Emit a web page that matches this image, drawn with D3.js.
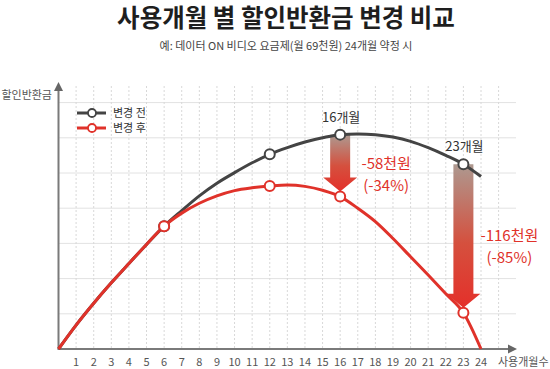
<!DOCTYPE html>
<html>
<head>
<meta charset="utf-8">
<script src="https://cdn.jsdelivr.net/npm/d3@7"></script>
<style>
  body { margin: 0; background: #fff; }
  svg { display: block; font-family: "Noto Sans CJK KR", "Noto Sans", sans-serif; }
</style>
</head>
<body>
<div id="chart"></div>
<script>
// months 0..24
const months = [0, 1, 2, 3, 4, 5, 6, 7, 8, 9, 10, 11, 12, 13, 14, 15, 16, 17, 18, 19, 20, 21, 22, 23, 24]
const tickMonths = [1, 2, 3, 4, 5, 6, 7, 8, 9, 10, 11, 12, 13, 14, 15, 16, 17, 18, 19, 20, 21, 22, 23, 24]
const gridMonths = [1, 2, 3, 4, 5, 6, 7, 8, 9, 10, 11, 12, 13, 14, 15, 16, 17, 18, 19, 20, 21, 22, 23, 24, 25]
const gridValues = [1, 2, 3, 4, 5, 6, 7]

// 할인반환금 (relative units)
const before = [0, 0.68, 1.3, 1.88, 2.43, 2.97, 3.49, 3.93, 4.35, 4.71, 5.01, 5.29, 5.53, 5.72, 5.88, 6.0, 6.09, 6.11, 6.09, 6.02, 5.9, 5.72, 5.5, 5.25, 4.9]
const after = [0, 0.68, 1.3, 1.88, 2.43, 2.97, 3.49, 3.86, 4.14, 4.35, 4.5, 4.58, 4.63, 4.66, 4.62, 4.51, 4.33, 4.0, 3.62, 3.14, 2.62, 2.1, 1.57, 1.03, 0]

const markMonths = [6, 12, 16, 23]
const calloutMonths = [16, 23]
const calloutMonthLabels = ['16개월', '23개월']
const calloutDiffs = ['-58천원', '-116천원']
const calloutPcts = ['(-34%)', '(-85%)']

const seriesNames = ['변경 전', '변경 후']
const seriesColors = ['#444444', '#e0322a']

const width = 550, height = 369
const red = '#e0322a'

const svg = d3.select('#chart').append('svg')
  .attr('width', width)
  .attr('height', height)

const x = d3.scaleLinear().domain([0, 24]).range([58.5, 481])
const y = d3.scaleLinear().domain([0, 7]).range([349, 102.6])

const defs = svg.append('defs')
const grad = defs.append('linearGradient')
  .attr('id', 'arrowGrad')
  .attr('x1', 0).attr('y1', 0).attr('x2', 0).attr('y2', 1)
grad.append('stop').attr('offset', '0%').attr('stop-color', '#ad9990')
grad.append('stop').attr('offset', '55%').attr('stop-color', '#d5503e')
grad.append('stop').attr('offset', '100%').attr('stop-color', '#e4302a')

// title
svg.append('text')
  .attr('x', 286).attr('y', 27)
  .attr('text-anchor', 'middle')
  .attr('font-size', 24.5)
  .attr('font-weight', 'bold')
  .style('fill', '#1e1e1e')
  .text('사용개월 별 할인반환금 변경 비교')

svg.append('text')
  .attr('x', 286).attr('y', 50)
  .attr('text-anchor', 'middle')
  .attr('font-size', 11)
  .style('fill', '#444')
  .text('예: 데이터 ON 비디오 요금제(월 69천원) 24개월 약정 시')

// grid
svg.append('g').selectAll('line')
  .data(gridValues)
  .enter().append('line')
  .attr('x1', x(0)).attr('x2', 516)
  .attr('y1', d => y(d)).attr('y2', d => y(d))
  .style('stroke', '#e2e2e2')
  .style('stroke-width', 1)

svg.append('g').selectAll('line')
  .data(gridMonths)
  .enter().append('line')
  .attr('x1', d => x(d)).attr('x2', d => x(d))
  .attr('y1', 86).attr('y2', y(0))
  .style('stroke', '#d8d8d8')
  .style('stroke-width', 1)
  .style('stroke-dasharray', '2,2')

// axes with arrows
svg.append('line')
  .attr('x1', x(0)).attr('x2', 510)
  .attr('y1', y(0)).attr('y2', y(0))
  .style('stroke', '#7a7a7a').style('stroke-width', 2)
svg.append('path')
  .attr('d', 'M517,' + y(0) + ' L508,' + (y(0) - 4.5) + ' L508,' + (y(0) + 4.5) + 'Z')
  .style('fill', '#666')

svg.append('line')
  .attr('x1', x(0)).attr('x2', x(0))
  .attr('y1', y(0) + 1).attr('y2', 89)
  .style('stroke', '#7a7a7a').style('stroke-width', 2)
svg.append('path')
  .attr('d', 'M' + x(0) + ',82 L' + (x(0) - 4.5) + ',91 L' + (x(0) + 4.5) + ',91Z')
  .style('fill', '#666')

// tick labels
svg.append('g').selectAll('text')
  .data(tickMonths)
  .enter().append('text')
  .attr('x', d => x(d))
  .attr('y', 366)
  .attr('text-anchor', 'middle')
  .attr('font-size', 11)
  .style('fill', '#555')
  .text(d => d)

svg.append('text')
  .attr('x', 498).attr('y', 366)
  .attr('font-size', 11)
  .style('fill', '#555')
  .text('사용개월수')

svg.append('text')
  .attr('x', 52).attr('y', 99)
  .attr('text-anchor', 'end')
  .attr('font-size', 11)
  .style('fill', '#555')
  .text('할인반환금')

// drop arrows
const shaftHalf = 10, headHalf = 17, headLen = 14
calloutMonths.forEach(function (m, i) {
  const cx = x(m)
  const top = y(before[m])
  const tip = y(after[m]) - 5
  const hy = tip - headLen
  const p = d3.path()
  p.moveTo(cx - shaftHalf, top)
  p.lineTo(cx + shaftHalf, top)
  p.lineTo(cx + shaftHalf, hy)
  p.lineTo(cx + headHalf, hy)
  p.lineTo(cx, tip)
  p.lineTo(cx - headHalf, hy)
  p.lineTo(cx - shaftHalf, hy)
  p.closePath()
  svg.append('path')
    .attr('d', p.toString())
    .style('fill', 'url(#arrowGrad)')

  const mid = (top + tip + 5) / 2
  svg.append('text')
    .attr('x', cx + 46).attr('y', mid + 3)
    .attr('text-anchor', 'middle')
    .attr('font-size', 15)
    .style('fill', red)
    .text(calloutDiffs[i])
  svg.append('text')
    .attr('x', cx + 46).attr('y', mid + 25)
    .attr('text-anchor', 'middle')
    .attr('font-size', 15)
    .style('fill', red)
    .text(calloutPcts[i])

  svg.append('text')
    .attr('x', cx + 1).attr('y', top - 13)
    .attr('text-anchor', 'middle')
    .attr('font-size', 13)
    .style('fill', '#333')
    .text(calloutMonthLabels[i])
})

// lines
const line = d3.line()
  .x((d, i) => x(months[i]))
  .y(d => y(d))
  .curve(d3.curveMonotoneX)

const series = [before, after]
series.forEach(function (s, k) {
  svg.append('path')
    .datum(s)
    .attr('d', line)
    .style('fill', 'none')
    .style('stroke', seriesColors[k])
    .style('stroke-width', 3)
})

series.forEach(function (s, k) {
  svg.append('g').selectAll('circle')
    .data(markMonths)
    .enter().append('circle')
    .attr('cx', d => x(d))
    .attr('cy', d => y(s[d]))
    .attr('r', 5)
    .style('fill', '#fff')
    .style('stroke', seriesColors[k])
    .style('stroke-width', 2)
})

// legend
const legend = svg.append('g')
seriesNames.forEach(function (name, k) {
  const ly = 113 + k * 15
  legend.append('line')
    .attr('x1', 77).attr('x2', 106)
    .attr('y1', ly).attr('y2', ly)
    .style('stroke', seriesColors[k])
    .style('stroke-width', 3)
  legend.append('circle')
    .attr('cx', 92).attr('cy', ly).attr('r', 4)
    .style('fill', '#fff')
    .style('stroke', seriesColors[k])
    .style('stroke-width', 1.8)
  legend.append('text')
    .attr('x', 113).attr('y', ly + 4)
    .attr('font-size', 11)
    .style('fill', '#333')
    .text(name)
})
</script>
</body>
</html>
